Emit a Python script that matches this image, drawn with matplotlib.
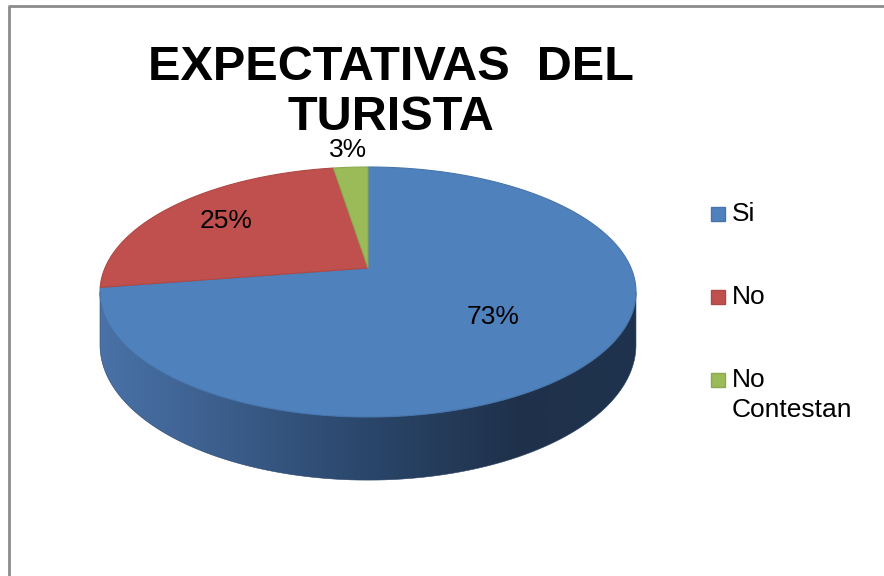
import numpy as np
import matplotlib
matplotlib.use("Agg")
import matplotlib.pyplot as plt
from matplotlib.patches import Polygon, Rectangle
from matplotlib import font_manager

# Data
categories = ["Si", "No", "No\nContestan"]
values = [72.5, 25.0, 2.5]
colors = ["#4F81BD", "#C0504D", "#9BBB59"]
edge_colors = ["#4775AB", "#AE4845", "#8CA950"]
title = "EXPECTATIVAS  DEL\nTURISTA"

# label radius (fraction of pie radius) for each percentage label
label_r = [0.58, 0.72, 1.21]


def pick_font(names):
    for n in names:
        try:
            font_manager.findfont(n, fallback_to_default=False)
            return n
        except Exception:
            pass
    return "DejaVu Sans"


body_font = pick_font(["Liberation Sans", "Arial"])
narrow = pick_font(["Liberation Sans Narrow", "Arial Narrow"])

fig = plt.figure(figsize=(8.84, 5.76), dpi=100)
ax = fig.add_axes([0, 0, 1, 1])
ax.set_xlim(0, 884)
ax.set_ylim(576, 0)
ax.axis("off")

# chart area border (left and top only visible)
ax.plot([8.5, 8.5, 884], [576, 6, 6], color="#8C8C8C", lw=2, solid_capstyle="butt")

# 3D pie projection (simple perspective)
X0, Y0 = 368, 268
A, B, K, DEPTH = 263, 120.4, 0.192, 51


def proj(r, theta):
    u = r * np.cos(theta)
    v = r * np.sin(theta)
    w = 1 + K * v
    return X0 + A * u / w, Y0 - B * v / w, w


fracs = np.array(values) / sum(values)
starts = np.concatenate([[0], np.cumsum(fracs)[:-1]])

# side wall (front half of the outline)
t0 = -np.arcsin(K)
ts = np.linspace(np.pi - t0, 2 * np.pi + t0, 300)
xs, ys, ws = proj(1.0, ts)
side_x = np.concatenate([xs, xs[::-1]])
side_y = np.concatenate([ys, (ys + DEPTH / ws)[::-1]])
side = Polygon(np.column_stack([side_x, side_y]), closed=True,
               facecolor="none", edgecolor="#2A4468", lw=0.4, zorder=2)
ax.add_patch(side)

gx = np.linspace(xs.min(), xs.max(), 400)
stops_x = [xs.min(), 368, 520, xs.max()]
stops_c = np.array([[74, 114, 168], [42, 70, 106], [31, 49, 74], [31, 51, 78]]) / 255
grad = np.stack([np.interp(gx, stops_x, stops_c[:, i]) for i in range(3)], axis=-1)
img = ax.imshow(grad[np.newaxis, :, :], extent=[gx[0], gx[-1], side_y.max(), ys.min()],
                aspect="auto", zorder=1, interpolation="bilinear")
img.set_clip_path(side)
ax.set_xlim(0, 884)
ax.set_ylim(576, 0)

# top face slices, clockwise from 12 o'clock
for i, (s, f) in enumerate(zip(starts, fracs)):
    th = np.pi / 2 - 2 * np.pi * np.linspace(s, s + f, 200)
    px, py, _ = proj(1.0, th)
    pts = np.column_stack([np.concatenate([[X0], px]), np.concatenate([[Y0], py])])
    ax.add_patch(Polygon(pts, closed=True, facecolor=colors[i],
                         edgecolor=edge_colors[i], lw=0.8, zorder=3))

# percentage labels
for i, (s, f) in enumerate(zip(starts, fracs)):
    mid = np.pi / 2 - 2 * np.pi * (s + f / 2)
    lx, ly, _ = proj(label_r[i], mid)
    ax.text(lx, ly, f"{int(values[i] + 0.5)}%", ha="center", va="center",
            fontsize=19, family=body_font, color="black", zorder=5)

# title
tfont = narrow if narrow != "DejaVu Sans" else body_font
tsize = 41 if tfont == narrow else 35
for j, line in enumerate(title.split("\n")):
    ax.text(391, 67 + 50 * j, line, ha="center", va="center", fontsize=tsize,
            family=tfont, fontweight="bold", color="black", zorder=6)

# legend
for i, lab in enumerate(categories):
    cy = 214 + 83 * i
    ax.add_patch(Rectangle((711, cy - 7), 14, 14, facecolor=colors[i],
                           edgecolor=edge_colors[i], lw=1, zorder=4))
    ax.text(732, cy - 12, lab, ha="left", va="top", fontsize=19,
            family=body_font, color="black", linespacing=1.3, zorder=5)

fig.savefig("out.png", dpi=100)
